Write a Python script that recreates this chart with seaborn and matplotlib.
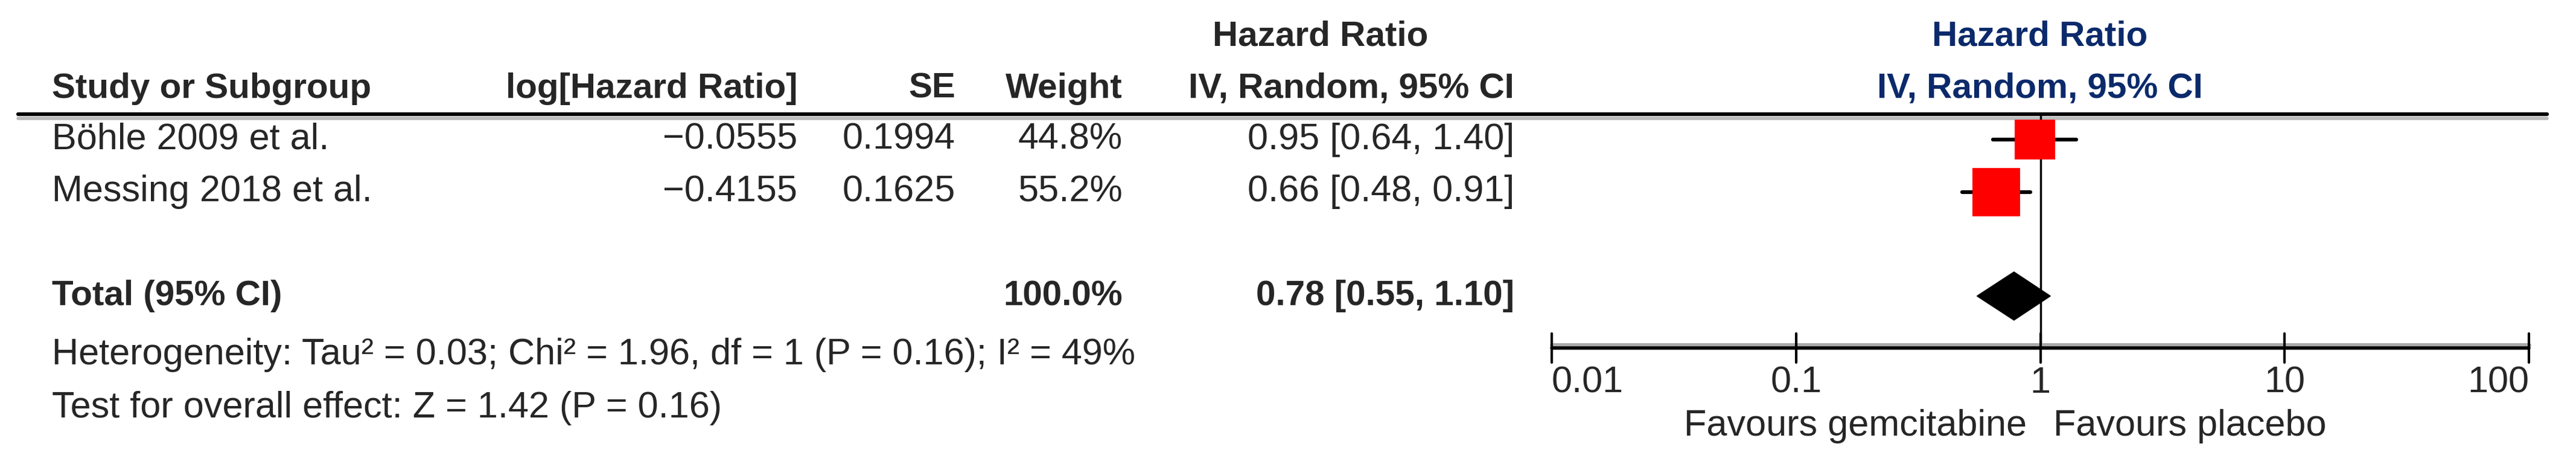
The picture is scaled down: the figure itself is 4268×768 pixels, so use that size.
import matplotlib
matplotlib.use('Agg')
import matplotlib.pyplot as plt
import seaborn as sns
import pandas as pd

studies = ["Böhle 2009 et al.", "Messing 2018 et al."]
log_hr = ["-0.0555", "-0.4155"]
se = ["0.1994", "0.1625"]
weight = [44.8, 55.2]
hr = [0.95, 0.66]
ci_low = [0.64, 0.48]
ci_high = [1.40, 0.91]
total_hr, total_low, total_high = 0.78, 0.55, 1.10
ticks = [0.01, 0.1, 1, 10, 100]
tick_labels = ["0.01", "0.1", "1", "10", "100"]

W, H = 4268, 768
row_y = [231, 318]
total_y = 490
axis_y = 576

sns.set_style("white")
plt.rcParams['font.family'] = ['Liberation Sans', 'DejaVu Sans']
fs = 44

fig = plt.figure(figsize=(W / 100, H / 100), dpi=100)
bg = fig.add_axes([0, 0, 1, 1])
bg.set_xlim(0, W)
bg.set_ylim(H, 0)
bg.axis('off')

# header line with grey shadow
bg.plot([30, 4220], [196, 196], color='#bbbbbb', lw=4)
bg.plot([30, 4220], [189, 189], color='black', lw=4.5)

bold = dict(fontsize=42, fontweight='bold', va='center')
reg = dict(fontsize=fs, va='center')
bg.text(2188, 61, "Hazard Ratio", ha='center', **bold)
bg.text(86, 147, "Study or Subgroup", ha='left', **bold)
bg.text(1321, 147, "log[Hazard Ratio]", ha='right', **bold)
bg.text(1583, 147, "SE", ha='right', **bold)
bg.text(1860, 147, "Weight", ha='right', **bold)
bg.text(2509, 147, "IV, Random, 95% CI", ha='right', **bold)
bg.text(3380, 61, "Hazard Ratio", ha='center', color='#0b2a6b', **bold)
bg.text(3380, 147, "IV, Random, 95% CI", ha='center', color='#0b2a6b', **bold)

for i, y in enumerate(row_y):
    bg.text(86, y, studies[i], ha='left', **reg)
    bg.text(1321, y, log_hr[i].replace('-', '\u2212'), ha='right', **reg)
    bg.text(1583, y, se[i], ha='right', **reg)
    bg.text(1860, y, f"{weight[i]:.1f}%", ha='right', **reg)
    bg.text(2509, y, f"{hr[i]:.2f} [{ci_low[i]:.2f}, {ci_high[i]:.2f}]", ha='right', **reg)

bg.text(86, total_y, "Total (95% CI)", ha='left', **bold)
bg.text(1860, total_y, f"{sum(weight):.1f}%", ha='right', **bold)
bg.text(2509, total_y, f"{total_hr:.2f} [{total_low:.2f}, {total_high:.2f}]", ha='right', **bold)
bg.text(86, 588, "Heterogeneity: Tau² = 0.03; Chi² = 1.96, df = 1 (P = 0.16); I² = 49%", ha='left', **reg)
bg.text(86, 676, "Test for overall effect: Z = 1.42 (P = 0.16)", ha='left', **reg)

# forest panel
x0, x1 = 2571, 4190
ax = fig.add_axes([x0 / W, 0, (x1 - x0) / W, 1])
ax.set_xscale('log')
ax.set_xlim(0.01, 100)
ax.set_ylim(H, 0)
ax.axis('off')
ax.patch.set_alpha(0)

ax.plot([1, 1], [189, axis_y], color='black', lw=2.5, zorder=1)
for i, y in enumerate(row_y):
    ax.plot([ci_low[i], ci_high[i]], [y, y], color='black', lw=4.5, zorder=2)
df = pd.DataFrame({"hr": hr, "y": row_y, "w": weight})
sns.scatterplot(data=df, x="hr", y="y", size="w", sizes=(2300, 3300), marker='s',
                color='red', edgecolor='none', legend=False, ax=ax, zorder=3)
ax.fill([total_low, total_hr, total_high, total_hr],
        [total_y, total_y - 40, total_y, total_y + 40], color='black', zorder=3)

ax.plot([0.01, 100], [axis_y - 5, axis_y - 5], color='#aaaaaa', lw=5, clip_on=False)
ax.plot([0.01, 100], [axis_y, axis_y], color='black', lw=4, clip_on=False)
for t, lab in zip(ticks, tick_labels):
    ax.plot([t, t], [552, 600], color='black', lw=3, clip_on=False)
    ha = 'left' if t == ticks[0] else ('right' if t == ticks[-1] else 'center')
    ax.text(t, 634, lab, ha=ha, va='center', fontsize=fs)
ax.text(0.88, 706, "Favours gemcitabine", ha='right', va='center', fontsize=fs)
ax.text(1.13, 706, "Favours placebo", ha='left', va='center', fontsize=fs)

fig.savefig("out.png", dpi=100)
